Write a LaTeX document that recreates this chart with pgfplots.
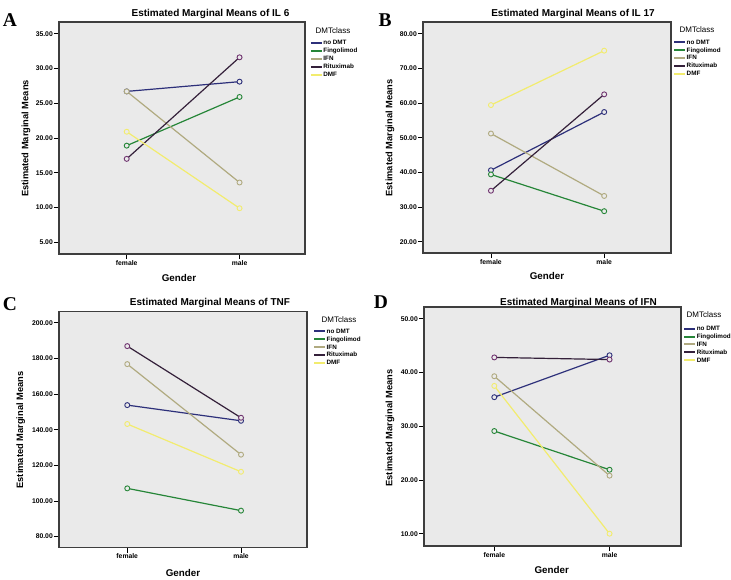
\documentclass[border=0pt]{standalone}
\usepackage{fontspec}
\setmainfont{Liberation Sans}
\newfontfamily\panelfont{Liberation Serif}
\usepackage{pgfplots}
\usepackage{pgfplotstable}
\pgfplotsset{compat=1.18}

% series colours (SPSS default palette)
\definecolor{nodmt}{RGB}{45,48,122}
\definecolor{fingo}{RGB}{38,134,56}
\definecolor{ifn}{RGB}{176,170,128}
\definecolor{ritux}{RGB}{52,32,58}
\definecolor{rituxmark}{RGB}{112,52,112}
\definecolor{dmf}{RGB}{242,236,110}
\definecolor{bg}{RGB}{234,234,234}
\definecolor{frame}{RGB}{62,62,62}

% estimated marginal means, 0 = female, 1 = male
\pgfplotstableread{
g noDMT Fingolimod IFN Rituximab DMF
0 26.7  18.9  26.7  17.0  20.9
1 28.1  25.9  13.6  31.6   9.9
}\ilsix
\pgfplotstableread{
g noDMT Fingolimod IFN Rituximab DMF
0 40.6  39.4  51.2  34.7  59.4
1 57.4  28.8  33.2  62.5  75.1
}\ilseventeen
\pgfplotstableread{
g noDMT Fingolimod IFN Rituximab DMF
0 153.8 107.1 176.8 186.9 143.2
1 145.0  94.6 126.0 146.7 116.4
}\tnf
\pgfplotstableread{
g noDMT Fingolimod IFN Rituximab DMF
0 35.4  29.1  39.3  42.8  37.5
1 43.2  21.9  20.8  42.4  10.0
}\ifn

\pgfplotsset{
  emm/.style={
    scale only axis, anchor=south west,
    axis background/.style={fill=bg},
    axis line style={draw=frame, line width=1.4pt},
    tick pos=left, tick align=outside, major tick length=5pt,
    tick style={black, line width=0.8pt},
    xtick={0,1}, xticklabels={female,male},
    tick label style={font=\bfseries\fontsize{6.8}{8}\selectfont},
    yticklabel style={inner sep=1pt},
    xticklabel style={inner sep=1pt},
    /pgf/number format/fixed, /pgf/number format/fixed zerofill,
    /pgf/number format/precision=2, /pgf/number format/assume math mode=true,
    clip=false,
    legend cell align=left,
    legend image code/.code={\draw[##1, line width=2pt] (0pt,0pt) -- (11pt,0pt);},
    legend style={draw=none, fill=none, inner sep=0pt, outer sep=0pt,
      anchor=north west, row sep=0.4pt,
      font=\bfseries\fontsize{6.3}{8}\selectfont,
      nodes={inner sep=0.5pt, text height=5pt, text depth=1.5pt}},
    /tikz/every even column/.append style={column sep=1pt},
  },
  emmline/.style={line width=1.2pt, mark=*, mark size=2.5pt,
    mark options={fill=bg, line width=0.9pt}},
}

\newcommand\fiveseries[1]{%
  \addplot[emmline, color=nodmt] table[x=g, y=noDMT] {#1};
  \addlegendentry{no DMT}
  \addplot[emmline, color=fingo] table[x=g, y=Fingolimod] {#1};
  \addlegendentry{Fingolimod}
  \addplot[emmline, color=ifn] table[x=g, y=IFN] {#1};
  \addlegendentry{IFN}
  \addplot[emmline, color=ritux,
    mark options={fill=bg, draw=rituxmark, line width=0.9pt}] table[x=g, y=Rituximab] {#1};
  \addlegendentry{Rituximab}
  \addplot[emmline, color=dmf] table[x=g, y=DMF] {#1};
  \addlegendentry{DMF}
}

\begin{document}
\begin{tikzpicture}
\path[use as bounding box] (0pt,0pt) rectangle (731pt,-580pt);

% A: IL 6
\begin{axis}[emm, at={(59pt,-254pt)}, width=246pt, height=232pt,
  xmin=-0.60, xmax=1.58, ymin=3.32, ymax=36.68, ytick={5,10,...,35},
  legend style={at={(axis description cs:1.020,0.925)}}]
  \fiveseries{\ilsix}
\end{axis}

% B: IL 17
\begin{axis}[emm, at={(423pt,-253pt)}, width=248pt, height=231pt,
  xmin=-0.60, xmax=1.59, ymin=16.74, ymax=83.37, ytick={20,30,...,80},
  legend style={at={(axis description cs:1.009,0.928)}}]
  \fiveseries{\ilseventeen}
\end{axis}

% C: TNF
\begin{axis}[emm, at={(59pt,-547.7pt)}, width=248pt, height=236pt,
  xmin=-0.60, xmax=1.58, ymin=73.8, ymax=206.2, ytick={80,100,...,200},
  legend style={at={(axis description cs:1.025,0.932)}}]
  \fiveseries{\tnf}
\end{axis}

% D: IFN
\begin{axis}[emm, at={(424pt,-546pt)}, width=257pt, height=239pt,
  xmin=-0.61, xmax=1.62, ymin=7.71, ymax=52.18, ytick={10,20,...,50},
  legend style={at={(axis description cs:1.009,0.925)}}]
  \fiveseries{\ifn}
\end{axis}

% panel letters
\begin{scope}[every node/.style={font=\panelfont\bfseries\fontsize{19.5}{20}\selectfont, inner sep=0pt}]
  \node at (10pt,-20pt) {A};
  \node at (385pt,-20pt) {B};
  \node at (10pt,-304pt) {C};
  \node at (381pt,-302pt) {D};
\end{scope}

% titles
\begin{scope}[every node/.style={font=\bfseries\fontsize{10}{12}\selectfont, inner sep=0pt}]
  \node at (210.5pt,-14pt) {Estimated Marginal Means of IL 6};
  \node at (573pt,-14pt) {Estimated Marginal Means of IL 17};
  \node at (210pt,-303.3pt) {Estimated Marginal Means of TNF};
  \node at (578.5pt,-302.7pt) {Estimated Marginal Means of IFN};
\end{scope}

% axis titles
\begin{scope}[every node/.style={font=\bfseries\fontsize{9.3}{11}\selectfont, inner sep=0pt}]
  \node[rotate=90] at (26pt,-138.5pt) {Estimated Marginal Means};
  \node[rotate=90] at (390pt,-138pt) {Estimated Marginal Means};
  \node[rotate=90] at (20.7pt,-430pt) {Estimated Marginal Means};
  \node[rotate=90] at (390pt,-428pt) {Estimated Marginal Means};
  \node[font=\bfseries\fontsize{9.8}{11}\selectfont] at (179pt,-277.7pt) {Gender};
  \node[font=\bfseries\fontsize{9.8}{11}\selectfont] at (547pt,-276pt) {Gender};
  \node[font=\bfseries\fontsize{9.8}{11}\selectfont] at (183pt,-573.3pt) {Gender};
  \node[font=\bfseries\fontsize{9.8}{11}\selectfont] at (551.7pt,-570pt) {Gender};
\end{scope}

% legend titles
\begin{scope}[every node/.style={font=\fontsize{8}{9}\selectfont, inner sep=0pt}]
  \node at (333pt,-31pt) {DMTclass};
  \node at (697pt,-30pt) {DMTclass};
  \node at (339pt,-319.3pt) {DMTclass};
  \node at (704pt,-315pt) {DMTclass};
\end{scope}
\end{tikzpicture}
\end{document}
